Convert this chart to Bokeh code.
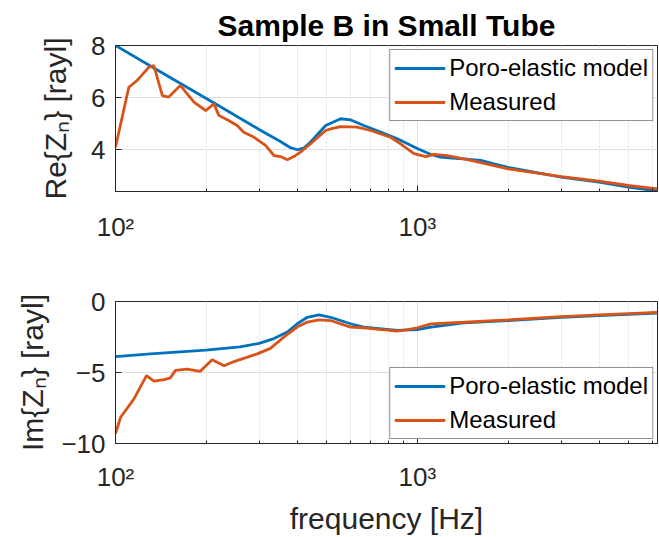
from bokeh.plotting import figure
from bokeh.models import Range1d, FixedTicker, Legend, LegendItem
from bokeh.layouts import column
from bokeh.embed import file_html
from bokeh.resources import INLINE

# ---------------- data ----------------
re_model_f = [100, 134, 217, 300, 352, 380, 400, 420, 443, 497, 557, 600, 665, 755, 859, 1000,
              1110, 1194, 1300, 1427, 1622, 1795, 2000, 2436, 3000, 4000, 5000, 6250]
re_model_v = [8.0, 7.14, 5.73, 4.77, 4.32, 4.08, 4.0, 4.06, 4.3, 4.93, 5.19, 5.15, 4.93, 4.68, 4.42, 4.05,
              3.82, 3.72, 3.68, 3.65, 3.59, 3.46, 3.33, 3.14, 2.95, 2.76, 2.57, 2.42]

re_meas_f = [100, 110.7, 118, 129, 134, 143, 150, 164, 171, 182, 199, 212, 220, 237, 253, 266,
             288, 314, 335, 352, 371, 390, 410, 443, 497, 516, 557, 632, 700, 815, 880, 975,
             1066, 1136, 1257, 1505, 2000, 3000, 4000, 5000, 6250]
re_meas_v = [4.1, 6.4, 6.66, 7.17, 7.23, 6.08, 6.02, 6.47, 6.21, 5.83, 5.5, 5.76, 5.32, 5.12, 4.93, 4.67,
             4.48, 4.17, 3.78, 3.74, 3.62, 3.74, 3.91, 4.23, 4.74, 4.8, 4.89, 4.87, 4.74, 4.48, 4.23, 3.85,
             3.74, 3.82, 3.78, 3.59, 3.27, 2.97, 2.80, 2.63, 2.50]

im_model_f = [100, 130.6, 199, 259, 299, 335, 371, 400, 432, 472, 516, 601, 665, 859, 1000,
              1110, 1427, 2000, 3000, 4000, 6250]
im_model_v = [-3.88, -3.69, -3.42, -3.19, -2.95, -2.61, -2.15, -1.57, -1.11, -0.94, -1.11, -1.57, -1.8, -2.03, -1.98,
              -1.8, -1.5, -1.34, -1.11, -0.99, -0.81]

im_meas_f = [100, 104, 115, 126.7, 134, 145, 152, 158, 172.8, 191, 209, 229, 247, 295, 326, 362,
             400, 432, 472, 516, 601, 665, 859, 927, 1000, 1110, 1427, 2000, 3000, 4000, 6250]
im_meas_v = [-9.3, -8.15, -6.88, -5.22, -5.61, -5.5, -5.38, -4.85, -4.76, -4.92, -4.11, -4.53, -4.23, -3.69, -3.30, -2.49,
             -1.8, -1.45, -1.29, -1.34, -1.8, -1.85, -2.08, -1.98, -1.85, -1.57, -1.46, -1.29, -1.06, -0.94, -0.76]

x_major = [100, 1000]
x_minor = [200, 300, 400, 500, 600, 700, 800, 900, 2000, 3000, 4000, 5000, 6000]
x_labels = {100: "10²", 1000: "10³"}
re_ticks = [4, 6, 8]
im_ticks = [-10, -5, 0]
series_names = ["Poro-elastic model", "Measured"]

BLUE = "#0072BD"
ORANGE = "#D95319"
AX = "#262626"
GRID = "#dfdfdf"
FONT = "Liberation Sans"


def style(p, yticks, ylabel, label_standoff):
    p.background_fill_color = "white"
    p.border_fill_color = "white"
    p.outline_line_color = AX
    p.outline_line_alpha = 1.0
    p.outline_line_width = 1
    p.xaxis.ticker = FixedTicker(ticks=x_major, minor_ticks=x_minor)
    p.xaxis.major_label_overrides = x_labels
    p.yaxis.ticker = FixedTicker(ticks=yticks)
    for ax in (p.xaxis, p.yaxis):
        ax.axis_line_color = AX
        ax.major_tick_line_color = AX
        ax.minor_tick_line_color = AX
        ax.major_tick_in = 6
        ax.major_tick_out = 0
        ax.minor_tick_in = 3
        ax.minor_tick_out = 0
        ax.major_label_text_font = FONT
        ax.major_label_text_font_size = "26px"
        ax.major_label_text_color = AX
        ax.axis_label_text_font = FONT
        ax.axis_label_text_font_size = "30px"
        ax.axis_label_text_font_style = "normal"
        ax.axis_label_text_color = AX
    p.yaxis.minor_tick_line_color = None
    p.yaxis.major_label_standoff = 10
    p.yaxis.axis_label = ylabel
    p.yaxis.axis_label_standoff = label_standoff
    p.xgrid.grid_line_color = GRID
    p.xgrid.minor_grid_line_color = GRID
    p.xgrid.minor_grid_line_dash = "2 2"
    p.ygrid.grid_line_color = GRID


def add_lines(p, fm, vm, fe, ve, loc):
    r1 = p.line(fm, vm, line_color=BLUE, line_width=2.8)
    r2 = p.line(fe, ve, line_color=ORANGE, line_width=2.8)
    leg = Legend(items=[LegendItem(label=series_names[0], renderers=[r1]),
                        LegendItem(label=series_names[1], renderers=[r2])],
                 location=loc)
    leg.label_text_font = FONT
    leg.label_text_font_size = "24px"
    leg.label_text_color = "black"
    leg.glyph_width = 51
    leg.glyph_height = 26
    leg.label_height = 26
    leg.label_standoff = 4
    leg.padding = 4
    leg.spacing = 6
    leg.margin = 4
    leg.border_line_color = AX
    leg.border_line_width = 1
    leg.background_fill_color = "white"
    leg.background_fill_alpha = 1.0
    p.add_layout(leg)


p1 = figure(width=659, height=250, x_axis_type="log",
            x_range=Range1d(100, 6250), y_range=Range1d(2.4, 8),
            output_backend="svg", toolbar_location=None,
            min_border_left=115, min_border_right=2, min_border_top=45, min_border_bottom=59)
style(p1, re_ticks, "Re{Zₙ} [rayl]", 16)
p1.xaxis.major_label_standoff = 20
p1.title.text = "Sample B in Small Tube"
p1.title.align = "center"
p1.title.text_font = FONT
p1.title.text_font_size = "30px"
p1.title.text_font_style = "bold"
p1.title.text_color = "black"
p1.title.standoff = 8
add_lines(p1, re_model_f, re_model_v, re_meas_f, re_meas_v, "top_right")

p2 = figure(width=659, height=287, x_axis_type="log",
            x_range=Range1d(100, 6250), y_range=Range1d(-10, 0),
            output_backend="svg", toolbar_location=None,
            min_border_left=115, min_border_right=2, min_border_top=51, min_border_bottom=92)
style(p2, im_ticks, "Im{Zₙ} [rayl]", 9)
p2.xaxis.major_label_standoff = 18
p2.xaxis.axis_label = "frequency [Hz]"
p2.xaxis.axis_label_standoff = 7
add_lines(p2, im_model_f, im_model_v, im_meas_f, im_meas_v, "bottom_right")

layout = column(p1, p2, spacing=0)
open("out.html", "w").write(file_html(layout, INLINE))
